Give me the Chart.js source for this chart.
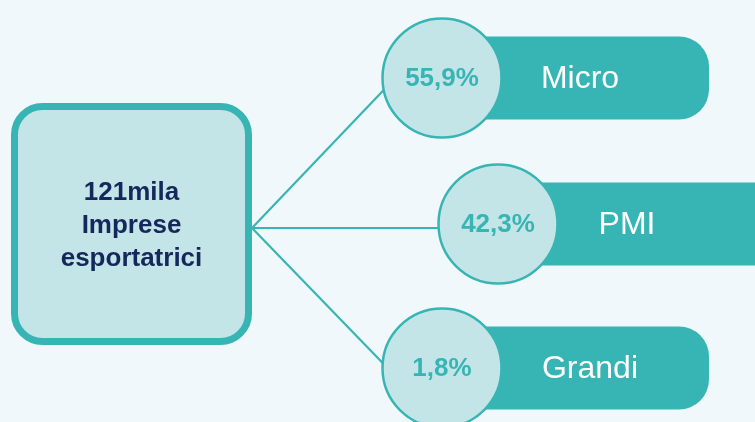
<!DOCTYPE html>
<html>
<head>
<meta charset="utf-8">
<script src="https://cdn.jsdelivr.net/npm/chart.js@4"></script>
<style>
  html, body { margin: 0; padding: 0; background: #f1f8fb; }
  #wrap { width: 755px; height: 422px; position: relative; }
</style>
</head>
<body>
<div id="wrap"><canvas id="treeChart"></canvas></div>
<script>
// data
const categories = ['Micro', 'PMI', 'Grandi'];
const shares = [55.9, 42.3, 1.8];
const rootLines = ['121mila', 'Imprese', 'esportatrici'];

// layout (in the 755x422 scale units)
const root = { x0: 11, x1: 252, y0: 103, y1: 345, joinY: 228 };
const nodes = [
  { cx: 442, cy: 78, barEnd: 709, textX: 580, joinY: 90 },
  { cx: 498, cy: 224, barEnd: 800, textX: 627, joinY: 228 },
  { cx: 442, cy: 368, barEnd: 709, textX: 590, joinY: 363 }
];
const circleR = 59.5;
const barHalf = 41.5;

const teal = '#37b5b5';
const light = '#c3e5e7';
const navy = '#14285c';

const fmt = v => v.toFixed(1).replace('.', ',') + '%';

const roundRect = (ctx, x, y, w, h, r) => {
  ctx.beginPath();
  ctx.moveTo(x + r, y);
  ctx.lineTo(x + w - r, y);
  ctx.arcTo(x + w, y, x + w, y + r, r);
  ctx.lineTo(x + w, y + h - r);
  ctx.arcTo(x + w, y + h, x + w - r, y + h, r);
  ctx.lineTo(x + r, y + h);
  ctx.arcTo(x, y + h, x, y + h - r, r);
  ctx.lineTo(x, y + r);
  ctx.arcTo(x, y, x + r, y, r);
  ctx.closePath();
};

// connectors: one line dataset per branch, ending on the circle's left side
const lineSets = nodes.map(n => {
  const dy = n.joinY - n.cy;
  const endX = n.cx - Math.sqrt(circleR * circleR - dy * dy);
  return {
    type: 'line',
    data: [
      { x: root.x1, y: root.joinY },
      { x: endX, y: n.joinY }
    ],
    borderColor: teal,
    borderWidth: 2.2,
    pointRadius: 0,
    fill: false,
    clip: false,
    order: 2
  };
});

const diagramPlugin = {
  id: 'diagram',
  beforeDatasetsDraw(chart) {
    const { ctx, scales: { x, y } } = chart;
    ctx.save();
    // bars behind the circles
    nodes.forEach(n => {
      const left = x.getPixelForValue(n.cx);
      const right = x.getPixelForValue(n.barEnd);
      const top = y.getPixelForValue(n.cy - barHalf);
      const bot = y.getPixelForValue(n.cy + barHalf);
      roundRect(ctx, left, top, right - left, bot - top, 30);
      ctx.fillStyle = teal;
      ctx.fill();
    });
    // root box
    const bx0 = x.getPixelForValue(root.x0) + 3.5;
    const bx1 = x.getPixelForValue(root.x1) - 3.5;
    const by0 = y.getPixelForValue(root.y0) + 3.5;
    const by1 = y.getPixelForValue(root.y1) - 3.5;
    roundRect(ctx, bx0, by0, bx1 - bx0, by1 - by0, 28);
    ctx.fillStyle = light;
    ctx.fill();
    ctx.lineWidth = 7;
    ctx.strokeStyle = teal;
    ctx.stroke();
    ctx.restore();
  },
  afterDatasetsDraw(chart) {
    const { ctx, scales: { x, y } } = chart;
    ctx.save();
    ctx.textAlign = 'center';
    ctx.textBaseline = 'middle';
    ctx.fillStyle = navy;
    ctx.font = 'bold 26px "Liberation Sans", Arial, sans-serif';
    const cx = (x.getPixelForValue(root.x0) + x.getPixelForValue(root.x1)) / 2;
    rootLines.forEach((t, i) => {
      ctx.fillText(t, cx, y.getPixelForValue(193 + i * 33));
    });
    nodes.forEach((n, i) => {
      ctx.fillStyle = teal;
      ctx.font = 'bold 26px "Liberation Sans", Arial, sans-serif';
      ctx.fillText(fmt(shares[i]), x.getPixelForValue(n.cx), y.getPixelForValue(n.cy + 1));
      ctx.fillStyle = '#ffffff';
      ctx.font = '32px "Liberation Sans", Arial, sans-serif';
      ctx.fillText(categories[i], x.getPixelForValue(n.textX), y.getPixelForValue(n.cy + 1));
    });
    ctx.restore();
  }
};

new Chart(document.getElementById('treeChart'), {
  type: 'bubble',
  data: {
    datasets: [
      {
        label: 'Quota',
        data: nodes.map(n => ({ x: n.cx, y: n.cy, r: circleR })),
        backgroundColor: light,
        borderColor: teal,
        borderWidth: 2.5,
        hoverRadius: 0,
        clip: false,
        order: 1
      },
      ...lineSets
    ]
  },
  options: {
    responsive: true,
    maintainAspectRatio: false,
    animation: false,
    events: [],
    layout: { padding: 0, autoPadding: false },
    plugins: { legend: { display: false }, tooltip: { enabled: false } },
    scales: {
      x: { type: 'linear', min: 0, max: 755, display: false },
      y: { type: 'linear', min: 0, max: 422, reverse: true, display: false }
    }
  },
  plugins: [diagramPlugin]
});
</script>
</body>
</html>
